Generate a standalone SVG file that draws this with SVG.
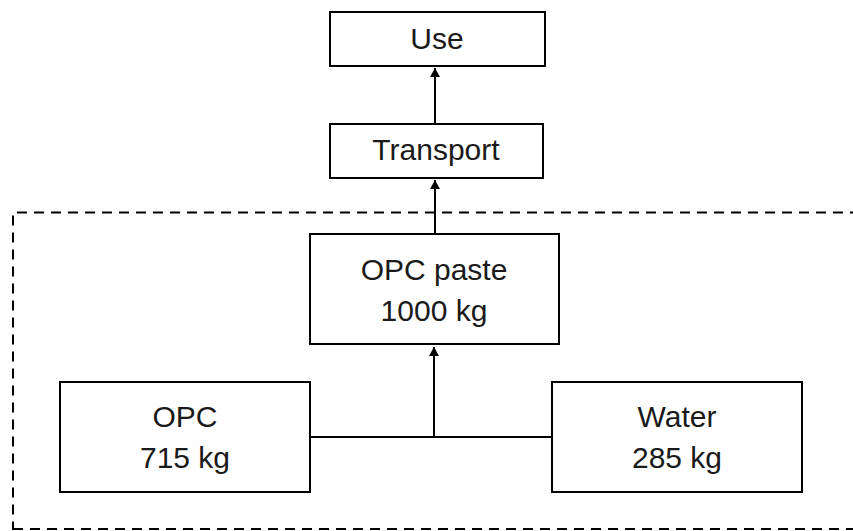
<svg xmlns="http://www.w3.org/2000/svg" width="853" height="531" viewBox="0 0 853 531">
<style>
.box{fill:#fff;stroke:#000;stroke-width:2}
.lbl{font-family:"Liberation Sans",Arial,sans-serif;font-size:30px;fill:#1a1a1a;text-anchor:middle}
.ln{fill:none;stroke:#000;stroke-width:2}
.dash{fill:none;stroke:#000;stroke-width:2;stroke-dasharray:10 7}
</style>
<defs>
<marker id="ah" viewBox="0 0 10 11" refX="10" refY="5.5" markerWidth="11" markerHeight="10" markerUnits="userSpaceOnUse" orient="auto">
<path d="M0,0 L10,5.5 L0,11 z" fill="#000"/>
</marker>
</defs>
<path class="dash" d="M860,212.5 H13 V530"/>
<path class="dash" d="M13,529 H860"/>
<g id="connectors">
<line class="ln" x1="435" y1="123" x2="435" y2="68" marker-end="url(#ah)"/>
<line class="ln" x1="435" y1="234" x2="435" y2="180" marker-end="url(#ah)"/>
<line class="ln" x1="310" y1="437" x2="552" y2="437"/>
<line class="ln" x1="434" y1="437" x2="434" y2="347" marker-end="url(#ah)"/>
</g>
<g id="use">
<rect class="box" x="330" y="12" width="215" height="54"/>
<text class="lbl" x="437" y="49">Use</text>
</g>
<g id="transport">
<rect class="box" x="330" y="124" width="213" height="54"/>
<text class="lbl" x="436" y="160">Transport</text>
</g>
<g id="opc-paste">
<rect class="box" x="310" y="234" width="249" height="110"/>
<text class="lbl" x="434" y="280">OPC paste</text>
<text class="lbl" x="434" y="321">1000 kg</text>
</g>
<g id="opc">
<rect class="box" x="60" y="382" width="250" height="110"/>
<text class="lbl" x="185" y="427">OPC</text>
<text class="lbl" x="185" y="468">715 kg</text>
</g>
<g id="water">
<rect class="box" x="552" y="382" width="250" height="110"/>
<text class="lbl" x="677" y="427">Water</text>
<text class="lbl" x="677" y="468">285 kg</text>
</g>
</svg>
